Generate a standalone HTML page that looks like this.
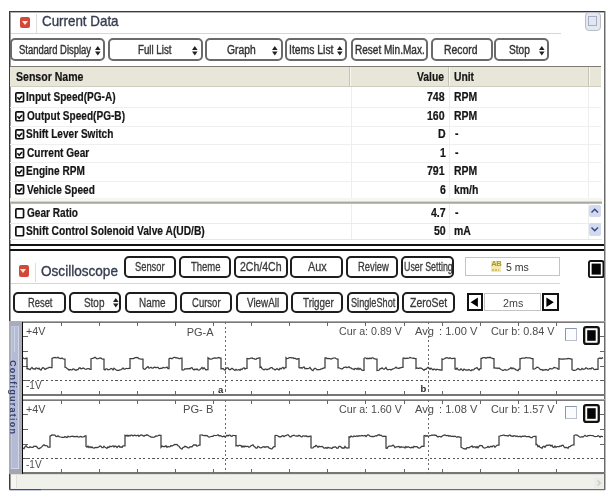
<!DOCTYPE html>
<html><head><meta charset="utf-8"><style>
html,body{margin:0;padding:0;background:#fff;}
body{width:616px;height:499px;position:relative;overflow:hidden;font-family:"Liberation Sans", sans-serif;}
body div{position:absolute;}
.t{position:absolute;white-space:nowrap;line-height:1;transform-origin:0 0;}
</style></head><body>
<div style="left:9px;top:11px;width:596px;height:1px;background:#3a3a3a"></div><div style="left:10px;top:12px;width:594px;height:1px;background:#b4b4b4"></div><div style="left:9px;top:11px;width:1px;height:478px;background:#3c3c3c"></div><div style="left:10px;top:12px;width:1px;height:477px;background:#9a9a9a"></div><div style="left:604px;top:11px;width:1px;height:479px;background:#6a6a6a"></div><div style="left:605px;top:11px;width:1px;height:479px;background:#b8b8b8"></div><div style="left:36px;top:14px;width:1px;height:19px;background:#dcdcdc"></div><div style="left:11px;top:33px;width:550px;height:1px;background:#d6d6d6"></div><div style="left:20px;top:16.5px;width:10px;height:11px;background:#d4473b;border-radius:2px;"></div><div style="left:21.5px;top:20.5px;width:0;height:0;border-left:3.5px solid transparent;border-right:3.5px solid transparent;border-top:4px solid #f7ecd0;"></div><div style="left:584.5px;top:12.2px;width:16.8px;height:18.5px;background:#e6e8ef;border:1px solid #b9bdca;border-radius:4px;box-sizing:border-box"></div><div style="left:588.2px;top:16.4px;width:9.2px;height:10.1px;background:#e3e7f5;border:1px solid #a9aebf;box-sizing:border-box"></div><div style="left:10.2px;top:38.3px;width:95.2px;height:22.4px;border:2px solid #6a6a6a;border-radius:5px;background:#fff;box-sizing:border-box"></div><div style="left:108.1px;top:38.3px;width:95px;height:22.4px;border:2px solid #6a6a6a;border-radius:5px;background:#fff;box-sizing:border-box"></div><div style="left:205.2px;top:38.3px;width:77.8px;height:22.4px;border:2px solid #6a6a6a;border-radius:5px;background:#fff;box-sizing:border-box"></div><div style="left:285px;top:38.3px;width:62.4px;height:22.4px;border:2px solid #6a6a6a;border-radius:5px;background:#fff;box-sizing:border-box"></div><div style="left:350.7px;top:38.3px;width:76.9px;height:22.4px;border:2px solid #6a6a6a;border-radius:5px;background:#fff;box-sizing:border-box"></div><div style="left:430.5px;top:38.3px;width:62.2px;height:22.4px;border:2px solid #6a6a6a;border-radius:5px;background:#fff;box-sizing:border-box"></div><div style="left:494.4px;top:38.3px;width:54.9px;height:22.4px;border:2px solid #6a6a6a;border-radius:5px;background:#fff;box-sizing:border-box"></div><svg style="position:absolute;left:93.5px;top:45.3px;overflow:visible" width="7.6" height="12"><path d="M1,4.9 L3.8,1 L6.6,4.9 Z M1,6.5 L3.8,10.4 L6.6,6.5 Z" fill="#222"/></svg><svg style="position:absolute;left:190.8px;top:45.3px;overflow:visible" width="7.6" height="12"><path d="M1,4.9 L3.8,1 L6.6,4.9 Z M1,6.5 L3.8,10.4 L6.6,6.5 Z" fill="#222"/></svg><svg style="position:absolute;left:271px;top:45.3px;overflow:visible" width="7.6" height="12"><path d="M1,4.9 L3.8,1 L6.6,4.9 Z M1,6.5 L3.8,10.4 L6.6,6.5 Z" fill="#222"/></svg><svg style="position:absolute;left:335.6px;top:45.3px;overflow:visible" width="7.6" height="12"><path d="M1,4.9 L3.8,1 L6.6,4.9 Z M1,6.5 L3.8,10.4 L6.6,6.5 Z" fill="#222"/></svg><svg style="position:absolute;left:537.5px;top:45.3px;overflow:visible" width="7.6" height="12"><path d="M1,4.9 L3.8,1 L6.6,4.9 Z M1,6.5 L3.8,10.4 L6.6,6.5 Z" fill="#222"/></svg><div style="left:10px;top:66px;width:591px;height:1px;background:#7e7c72"></div><div style="left:10px;top:67px;width:591px;height:19px;background:#e8e6d8"></div><div style="left:10px;top:86px;width:591px;height:1px;background:#cfcdc0"></div><div style="left:348.6px;top:67px;width:1px;height:19px;background:#c6c4b6"></div><div style="left:349.6px;top:67px;width:1px;height:19px;background:#f6f5ee"></div><div style="left:448.4px;top:67px;width:1px;height:19px;background:#c6c4b6"></div><div style="left:449.4px;top:67px;width:1px;height:19px;background:#f6f5ee"></div><div style="left:588px;top:67px;width:1px;height:19px;background:#c6c4b6"></div><div style="left:589px;top:67px;width:1px;height:19px;background:#f6f5ee"></div><div style="left:10px;top:107px;width:591px;height:1px;background:#efefec"></div><div style="left:10px;top:126px;width:591px;height:1px;background:#efefec"></div><div style="left:10px;top:144px;width:591px;height:1px;background:#efefec"></div><div style="left:10px;top:162px;width:591px;height:1px;background:#efefec"></div><div style="left:10px;top:181px;width:591px;height:1px;background:#efefec"></div><div style="left:350.8px;top:87px;width:1px;height:114px;background:#eeeeee"></div><div style="left:350.8px;top:204px;width:1px;height:35px;background:#eeeeee"></div><div style="left:449px;top:87px;width:1px;height:114px;background:#eeeeee"></div><div style="left:449px;top:204px;width:1px;height:35px;background:#eeeeee"></div><div style="left:588px;top:87px;width:1px;height:114px;background:#eeeeee"></div><div style="left:588px;top:204px;width:1px;height:35px;background:#eeeeee"></div><div style="left:10px;top:198px;width:592px;height:3px;background:#f5f5f1"></div><div style="left:10px;top:201px;width:592px;height:1px;background:#d8d7d0"></div><div style="left:10px;top:202px;width:592px;height:1px;background:#a9a8a0"></div><div style="left:10px;top:203px;width:592px;height:1px;background:#bdbcb5"></div><div style="left:10px;top:223px;width:592px;height:1px;background:#ececea"></div><div style="left:10px;top:239px;width:592px;height:1px;background:#e6e6e4"></div><svg style="position:absolute;left:15px;top:92.2px" width="10" height="11" viewBox="0 0 10 11"><rect x="0.85" y="0.85" width="7.7" height="8.9" rx="1" fill="#fff" stroke="#111" stroke-width="1.7"/><path d="M2.4,5.3 L4.2,7.2 L7.0,4.0" stroke="#111" stroke-width="1.6" fill="none"/></svg><svg style="position:absolute;left:15px;top:110.65px" width="10" height="11" viewBox="0 0 10 11"><rect x="0.85" y="0.85" width="7.7" height="8.9" rx="1" fill="#fff" stroke="#111" stroke-width="1.7"/><path d="M2.4,5.3 L4.2,7.2 L7.0,4.0" stroke="#111" stroke-width="1.6" fill="none"/></svg><svg style="position:absolute;left:15px;top:129.1px" width="10" height="11" viewBox="0 0 10 11"><rect x="0.85" y="0.85" width="7.7" height="8.9" rx="1" fill="#fff" stroke="#111" stroke-width="1.7"/><path d="M2.4,5.3 L4.2,7.2 L7.0,4.0" stroke="#111" stroke-width="1.6" fill="none"/></svg><svg style="position:absolute;left:15px;top:147.55px" width="10" height="11" viewBox="0 0 10 11"><rect x="0.85" y="0.85" width="7.7" height="8.9" rx="1" fill="#fff" stroke="#111" stroke-width="1.7"/><path d="M2.4,5.3 L4.2,7.2 L7.0,4.0" stroke="#111" stroke-width="1.6" fill="none"/></svg><svg style="position:absolute;left:15px;top:166px" width="10" height="11" viewBox="0 0 10 11"><rect x="0.85" y="0.85" width="7.7" height="8.9" rx="1" fill="#fff" stroke="#111" stroke-width="1.7"/><path d="M2.4,5.3 L4.2,7.2 L7.0,4.0" stroke="#111" stroke-width="1.6" fill="none"/></svg><svg style="position:absolute;left:15px;top:184.45px" width="10" height="11" viewBox="0 0 10 11"><rect x="0.85" y="0.85" width="7.7" height="8.9" rx="1" fill="#fff" stroke="#111" stroke-width="1.7"/><path d="M2.4,5.3 L4.2,7.2 L7.0,4.0" stroke="#111" stroke-width="1.6" fill="none"/></svg><svg style="position:absolute;left:15px;top:207.9px" width="10" height="11" viewBox="0 0 10 11"><rect x="0.85" y="0.85" width="7.7" height="8.9" rx="1" fill="#fff" stroke="#111" stroke-width="1.7"/></svg><svg style="position:absolute;left:15px;top:226.2px" width="10" height="11" viewBox="0 0 10 11"><rect x="0.85" y="0.85" width="7.7" height="8.9" rx="1" fill="#fff" stroke="#111" stroke-width="1.7"/></svg><div style="left:589px;top:204.8px;width:11.5px;height:12.2px;background:#d2daf0;border-radius:2px"></div><svg style="position:absolute;left:589px;top:204.8px" width="12" height="12"><path d="M2.5,7.5 L5.75,4.2 L9,7.5" stroke="#36427e" stroke-width="1.4" fill="none"/></svg><div style="left:589px;top:223.4px;width:11.5px;height:12.2px;background:#d2daf0;border-radius:2px"></div><svg style="position:absolute;left:589px;top:223.4px" width="12" height="12"><path d="M2.5,4.5 L5.75,7.8 L9,4.5" stroke="#36427e" stroke-width="1.4" fill="none"/></svg><div style="left:10px;top:243.6px;width:594px;height:2px;background:#111"></div><div style="left:10px;top:249px;width:594px;height:2px;background:#111"></div><div style="left:18.6px;top:265px;width:10px;height:11.5px;background:#d4473b;border-radius:2px;"></div><div style="left:20.1px;top:269.2px;width:0;height:0;border-left:3.5px solid transparent;border-right:3.5px solid transparent;border-top:4px solid #f7ecd0;"></div><div style="left:34.6px;top:263px;width:1px;height:19px;background:#dcdcdc"></div><div style="left:11px;top:282.5px;width:549px;height:1px;background:#d6d6d6"></div><div style="left:123.5px;top:256px;width:52.6px;height:21.6px;border:2px solid #1e1e1e;border-radius:5px;background:#fff;box-sizing:border-box"></div><div style="left:178.5px;top:256px;width:52.7px;height:21.6px;border:2px solid #1e1e1e;border-radius:5px;background:#fff;box-sizing:border-box"></div><div style="left:234.3px;top:256px;width:53.3px;height:21.6px;border:2px solid #1e1e1e;border-radius:5px;background:#fff;box-sizing:border-box"></div><div style="left:290.2px;top:256px;width:52.8px;height:21.6px;border:2px solid #1e1e1e;border-radius:5px;background:#fff;box-sizing:border-box"></div><div style="left:345.6px;top:256px;width:52.6px;height:21.6px;border:2px solid #1e1e1e;border-radius:5px;background:#fff;box-sizing:border-box"></div><div style="left:401.3px;top:256px;width:52.4px;height:21.6px;border:2px solid #1e1e1e;border-radius:5px;background:#fff;box-sizing:border-box"></div><div style="left:464.5px;top:257.4px;width:95.1px;height:18.8px;border:1px solid #c4c4c4;background:#fff;box-sizing:border-box"></div><div style="left:490.8px;top:260.5px;width:10.2px;height:11.3px;background:#f3eaa6"></div><div class="t" style="left:491.3px;top:260.2px;font-size:7.6px;font-weight:700;color:#a8963e;letter-spacing:-0.6px">AB</div><div style="left:491.5px;top:268.8px;width:8.8px;height:2px;background:repeating-linear-gradient(90deg,#d8bc78 0 1.5px,#f1e6a8 1.5px 3px)"></div><svg style="position:absolute;left:588px;top:260.2px" width="16.4" height="18.2"><rect x="0.95" y="0.95" width="14.5" height="16.3" rx="1.8" fill="#fff" stroke="#111" stroke-width="1.9"/><rect x="3.6" y="3.6" width="9.2" height="11" fill="#050505"/></svg><div style="left:12.9px;top:292.3px;width:52.8px;height:21px;border:2px solid #1e1e1e;border-radius:5px;background:#fff;box-sizing:border-box"></div><div style="left:68.5px;top:292.3px;width:52.3px;height:21px;border:2px solid #1e1e1e;border-radius:5px;background:#fff;box-sizing:border-box"></div><div style="left:124.8px;top:292.3px;width:51.8px;height:21px;border:2px solid #1e1e1e;border-radius:5px;background:#fff;box-sizing:border-box"></div><div style="left:180px;top:292.3px;width:52.1px;height:21px;border:2px solid #1e1e1e;border-radius:5px;background:#fff;box-sizing:border-box"></div><div style="left:235.8px;top:292.3px;width:51.8px;height:21px;border:2px solid #1e1e1e;border-radius:5px;background:#fff;box-sizing:border-box"></div><div style="left:291.4px;top:292.3px;width:51.7px;height:21px;border:2px solid #1e1e1e;border-radius:5px;background:#fff;box-sizing:border-box"></div><div style="left:347.4px;top:292.3px;width:51.6px;height:21px;border:2px solid #1e1e1e;border-radius:5px;background:#fff;box-sizing:border-box"></div><div style="left:402.4px;top:292.3px;width:52.3px;height:21px;border:2px solid #1e1e1e;border-radius:5px;background:#fff;box-sizing:border-box"></div><svg style="position:absolute;left:111.9px;top:297.3px;overflow:visible" width="7.6" height="12"><path d="M1,4.9 L3.8,1 L6.6,4.9 Z M1,6.5 L3.8,10.4 L6.6,6.5 Z" fill="#222"/></svg><div style="left:466.8px;top:293.1px;width:16.2px;height:18px;border:2px solid #111;background:#fff;box-sizing:border-box"></div><div style="left:483.6px;top:293.3px;width:57px;height:17.7px;border:1px solid #c4c4c4;background:#fff;box-sizing:border-box"></div><div style="left:541.8px;top:293.1px;width:16.9px;height:18px;border:2px solid #111;background:#fff;box-sizing:border-box"></div><svg style="position:absolute;left:0;top:0" width="616" height="499"><path d="M470.6,302.3 L477.9,297.5 L477.9,307.1 Z" fill="#000"/><path d="M553.8,302.3 L546.4,297.5 L546.4,307.1 Z" fill="#000"/></svg><div style="left:9px;top:321px;width:13px;height:152.5px;background:#a9adba"></div><div style="left:10.5px;top:325.5px;width:8.5px;height:143px;background:#b3bbd7;border:1px solid #d3d7e4;border-left-color:#c4cadd;border-top-color:#c0c6da;box-sizing:border-box"></div><div style="left:13.5px;top:327px;width:1px;height:25px;background:#cdd2e2"></div><div style="left:9px;top:468.5px;width:13px;height:5px;background:#a4a6ae"></div><div class="t" style="left:17.2px;top:359.5px;font-size:9px;font-weight:700;letter-spacing:1.25px;color:#36426e;transform:rotate(90deg);transform-origin:0 0;">Configuration</div><div style="left:22px;top:321px;width:582.5px;height:1px;background:#a6a6a6"></div><div style="left:22px;top:322px;width:582.5px;height:1px;background:#7a7a7a"></div><div style="left:22px;top:394.4px;width:582.5px;height:1.5px;background:#767676"></div><div style="left:60.52px;top:322px;width:1px;height:4px;background:#666"></div><div style="left:60.52px;top:391.2px;width:1px;height:4px;background:#666"></div><div style="left:98.64px;top:322px;width:1px;height:4px;background:#666"></div><div style="left:98.64px;top:391.2px;width:1px;height:4px;background:#666"></div><div style="left:136.76px;top:322px;width:1px;height:4px;background:#666"></div><div style="left:136.76px;top:391.2px;width:1px;height:4px;background:#666"></div><div style="left:174.88px;top:322px;width:1px;height:4px;background:#666"></div><div style="left:174.88px;top:391.2px;width:1px;height:4px;background:#666"></div><div style="left:213px;top:322px;width:1px;height:4px;background:#666"></div><div style="left:213px;top:391.2px;width:1px;height:4px;background:#666"></div><div style="left:251.12px;top:322px;width:1px;height:4px;background:#666"></div><div style="left:251.12px;top:391.2px;width:1px;height:4px;background:#666"></div><div style="left:289.24px;top:322px;width:1px;height:4px;background:#666"></div><div style="left:289.24px;top:391.2px;width:1px;height:4px;background:#666"></div><div style="left:327.36px;top:322px;width:1px;height:4px;background:#666"></div><div style="left:327.36px;top:391.2px;width:1px;height:4px;background:#666"></div><div style="left:365.48px;top:322px;width:1px;height:4px;background:#666"></div><div style="left:365.48px;top:391.2px;width:1px;height:4px;background:#666"></div><div style="left:403.6px;top:322px;width:1px;height:4px;background:#666"></div><div style="left:403.6px;top:391.2px;width:1px;height:4px;background:#666"></div><div style="left:441.72px;top:322px;width:1px;height:4px;background:#666"></div><div style="left:441.72px;top:391.2px;width:1px;height:4px;background:#666"></div><div style="left:479.84px;top:322px;width:1px;height:4px;background:#666"></div><div style="left:479.84px;top:391.2px;width:1px;height:4px;background:#666"></div><div style="left:517.96px;top:322px;width:1px;height:4px;background:#666"></div><div style="left:517.96px;top:391.2px;width:1px;height:4px;background:#666"></div><div style="left:556.08px;top:322px;width:1px;height:4px;background:#666"></div><div style="left:556.08px;top:391.2px;width:1px;height:4px;background:#666"></div><div style="left:23px;top:336.2px;width:4.5px;height:1px;background:#666"></div><div style="left:599.5px;top:336.2px;width:4.5px;height:1px;background:#666"></div><div style="left:23px;top:351.3px;width:4.5px;height:1px;background:#666"></div><div style="left:599.5px;top:351.3px;width:4.5px;height:1px;background:#666"></div><div style="left:23px;top:365.7px;width:4.5px;height:1px;background:#666"></div><div style="left:599.5px;top:365.7px;width:4.5px;height:1px;background:#666"></div><div style="left:23px;top:380.1px;width:4.5px;height:1px;background:#666"></div><div style="left:599.5px;top:380.1px;width:4.5px;height:1px;background:#666"></div><div style="left:23px;top:380.1px;width:580px;height:1.2px;background:repeating-linear-gradient(90deg,#555 0 2.2px,transparent 2.2px 4.62px)"></div><div style="left:224.7px;top:322px;width:1px;height:73.19999999999999px;background:repeating-linear-gradient(180deg,#6a6a6a 0 2px,transparent 2px 4.5px)"></div><div style="left:428.1px;top:322px;width:1px;height:73.19999999999999px;background:repeating-linear-gradient(180deg,#6a6a6a 0 2px,transparent 2px 4.5px)"></div><div style="left:22px;top:398.8px;width:582.5px;height:1px;background:#a6a6a6"></div><div style="left:22px;top:399.8px;width:582.5px;height:1px;background:#7a7a7a"></div><div style="left:22px;top:472.4px;width:582.5px;height:1.5px;background:#767676"></div><div style="left:60.52px;top:399.8px;width:1px;height:4px;background:#666"></div><div style="left:60.52px;top:469.2px;width:1px;height:4px;background:#666"></div><div style="left:98.64px;top:399.8px;width:1px;height:4px;background:#666"></div><div style="left:98.64px;top:469.2px;width:1px;height:4px;background:#666"></div><div style="left:136.76px;top:399.8px;width:1px;height:4px;background:#666"></div><div style="left:136.76px;top:469.2px;width:1px;height:4px;background:#666"></div><div style="left:174.88px;top:399.8px;width:1px;height:4px;background:#666"></div><div style="left:174.88px;top:469.2px;width:1px;height:4px;background:#666"></div><div style="left:213px;top:399.8px;width:1px;height:4px;background:#666"></div><div style="left:213px;top:469.2px;width:1px;height:4px;background:#666"></div><div style="left:251.12px;top:399.8px;width:1px;height:4px;background:#666"></div><div style="left:251.12px;top:469.2px;width:1px;height:4px;background:#666"></div><div style="left:289.24px;top:399.8px;width:1px;height:4px;background:#666"></div><div style="left:289.24px;top:469.2px;width:1px;height:4px;background:#666"></div><div style="left:327.36px;top:399.8px;width:1px;height:4px;background:#666"></div><div style="left:327.36px;top:469.2px;width:1px;height:4px;background:#666"></div><div style="left:365.48px;top:399.8px;width:1px;height:4px;background:#666"></div><div style="left:365.48px;top:469.2px;width:1px;height:4px;background:#666"></div><div style="left:403.6px;top:399.8px;width:1px;height:4px;background:#666"></div><div style="left:403.6px;top:469.2px;width:1px;height:4px;background:#666"></div><div style="left:441.72px;top:399.8px;width:1px;height:4px;background:#666"></div><div style="left:441.72px;top:469.2px;width:1px;height:4px;background:#666"></div><div style="left:479.84px;top:399.8px;width:1px;height:4px;background:#666"></div><div style="left:479.84px;top:469.2px;width:1px;height:4px;background:#666"></div><div style="left:517.96px;top:399.8px;width:1px;height:4px;background:#666"></div><div style="left:517.96px;top:469.2px;width:1px;height:4px;background:#666"></div><div style="left:556.08px;top:399.8px;width:1px;height:4px;background:#666"></div><div style="left:556.08px;top:469.2px;width:1px;height:4px;background:#666"></div><div style="left:23px;top:414.2px;width:4.5px;height:1px;background:#666"></div><div style="left:599.5px;top:414.2px;width:4.5px;height:1px;background:#666"></div><div style="left:23px;top:429px;width:4.5px;height:1px;background:#666"></div><div style="left:599.5px;top:429px;width:4.5px;height:1px;background:#666"></div><div style="left:23px;top:443.6px;width:4.5px;height:1px;background:#666"></div><div style="left:599.5px;top:443.6px;width:4.5px;height:1px;background:#666"></div><div style="left:23px;top:458.3px;width:4.5px;height:1px;background:#666"></div><div style="left:599.5px;top:458.3px;width:4.5px;height:1px;background:#666"></div><div style="left:23px;top:458.3px;width:580px;height:1.2px;background:repeating-linear-gradient(90deg,#555 0 2.2px,transparent 2.2px 4.62px)"></div><div style="left:224.7px;top:399.8px;width:1px;height:73.39999999999998px;background:repeating-linear-gradient(180deg,#6a6a6a 0 2px,transparent 2px 4.5px)"></div><div style="left:428.1px;top:399.8px;width:1px;height:73.39999999999998px;background:repeating-linear-gradient(180deg,#6a6a6a 0 2px,transparent 2px 4.5px)"></div><div style="left:22px;top:322px;width:1.2px;height:151.5px;background:#080808"></div><div class="t" style="left:217.9px;top:385.4px;font-size:9.5px;font-weight:700;color:#2a2a2a">a</div><div class="t" style="left:420.6px;top:383.6px;font-size:9.5px;font-weight:700;color:#2a2a2a">b</div><div style="left:565.2px;top:328.2px;width:12.3px;height:12.8px;border:1.3px solid #b9c0d0;border-top-color:#8d95aa;border-left-color:#8d95aa;background:#fbfcfe;box-sizing:border-box"></div><div style="left:565.2px;top:406.3px;width:12.3px;height:12.8px;border:1.3px solid #b9c0d0;border-top-color:#8d95aa;border-left-color:#8d95aa;background:#fbfcfe;box-sizing:border-box"></div><svg style="position:absolute;left:582.7px;top:325.8px" width="16.9" height="19"><rect x="1.15" y="1.15" width="14.6" height="16.7" rx="1.8" fill="#fff" stroke="#111" stroke-width="2.3"/><rect x="4.2" y="4.2" width="8.5" height="10.6" fill="#050505"/></svg><svg style="position:absolute;left:582.7px;top:403.5px" width="16.9" height="19"><rect x="1.15" y="1.15" width="14.6" height="16.7" rx="1.8" fill="#fff" stroke="#111" stroke-width="2.3"/><rect x="4.2" y="4.2" width="8.5" height="10.6" fill="#050505"/></svg><svg style="position:absolute;left:0;top:0" width="616" height="499"><path d="M23.0,357.8 L24.0,358.5 L25.0,358.8 L26.0,358.2 L27.0,358.2 L27.0,368.8 L28.0,368.7 L29.0,369.1 L30.0,369.7 L31.0,368.3 L32.0,367.4 L33.0,368.8 L34.0,368.6 L35.0,369.3 L36.0,367.9 L37.0,368.1 L38.0,368.9 L39.0,368.2 L40.0,369.5 L41.0,370.2 L42.0,368.5 L43.0,367.5 L44.0,368.1 L45.0,369.4 L46.0,368.9 L47.0,368.2 L48.0,368.2 L49.0,367.3 L50.0,367.3 L51.0,367.7 L52.0,367.7 L52.0,358.3 L53.0,357.9 L54.0,357.7 L55.0,357.5 L56.0,357.8 L57.0,357.7 L58.0,357.3 L59.0,358.2 L60.0,358.3 L61.0,358.5 L62.0,358.0 L63.0,358.8 L64.0,359.1 L65.0,359.1 L65.0,367.2 L66.0,367.5 L67.0,368.5 L68.0,369.1 L69.0,370.1 L70.0,369.4 L71.0,369.9 L72.0,369.9 L73.0,369.0 L74.0,369.1 L75.0,369.9 L76.0,370.3 L77.0,369.7 L78.0,369.6 L79.0,368.1 L80.0,367.8 L81.0,368.9 L82.0,368.7 L83.0,367.9 L84.0,368.4 L85.0,369.0 L86.0,369.4 L87.0,368.8 L88.0,368.7 L89.0,368.7 L90.0,369.4 L91.0,369.4 L91.0,358.8 L92.0,358.5 L93.0,358.4 L94.0,357.7 L95.0,357.3 L96.0,358.0 L97.0,358.8 L98.0,358.7 L99.0,358.4 L100.0,357.9 L101.0,358.1 L102.0,358.8 L103.0,359.0 L104.0,359.0 L104.0,369.3 L105.0,370.0 L106.0,368.8 L107.0,368.9 L108.0,369.9 L109.0,369.7 L110.0,369.2 L111.0,368.5 L112.0,368.7 L113.0,369.9 L114.0,368.2 L115.0,369.1 L116.0,369.8 L117.0,370.3 L118.0,370.3 L119.0,370.4 L120.0,369.8 L121.0,369.6 L122.0,369.1 L123.0,367.9 L124.0,369.1 L125.0,369.2 L126.0,368.3 L127.0,368.5 L128.0,368.6 L129.0,368.3 L130.0,368.3 L130.0,358.5 L131.0,358.5 L132.0,358.6 L133.0,358.6 L134.0,358.4 L135.0,357.7 L136.0,357.6 L137.0,357.4 L138.0,357.9 L139.0,358.6 L140.0,358.9 L141.0,359.1 L142.0,359.2 L143.0,359.2 L143.0,367.9 L144.0,369.1 L145.0,369.4 L146.0,368.2 L147.0,367.3 L148.0,366.7 L149.0,368.2 L150.0,367.8 L151.0,367.3 L152.0,368.2 L153.0,368.1 L154.0,367.3 L155.0,367.1 L156.0,367.8 L157.0,367.4 L158.0,367.4 L159.0,368.5 L160.0,368.5 L161.0,368.2 L162.0,368.4 L163.0,367.4 L164.0,367.7 L165.0,367.9 L166.0,367.5 L167.0,367.1 L168.0,368.7 L169.0,368.7 L169.0,358.9 L170.0,358.2 L171.0,358.4 L172.0,358.8 L173.0,357.9 L174.0,357.4 L175.0,357.3 L176.0,358.0 L177.0,357.6 L178.0,358.2 L179.0,358.5 L180.0,358.5 L181.0,358.0 L182.0,358.0 L182.0,369.9 L183.0,370.2 L184.0,369.7 L185.0,368.7 L186.0,369.1 L187.0,368.7 L188.0,368.9 L189.0,368.4 L190.0,368.9 L191.0,367.8 L192.0,367.7 L193.0,369.3 L194.0,370.0 L195.0,369.0 L196.0,369.8 L197.0,368.9 L198.0,369.9 L199.0,370.1 L200.0,369.4 L201.0,368.5 L202.0,367.5 L203.0,368.9 L204.0,367.8 L205.0,368.9 L206.0,370.0 L207.0,369.7 L208.0,369.7 L208.0,357.7 L209.0,358.4 L210.0,359.0 L211.0,359.0 L212.0,358.8 L213.0,358.4 L214.0,358.1 L215.0,357.8 L216.0,358.2 L217.0,358.2 L218.0,357.8 L219.0,357.4 L220.0,358.0 L221.0,358.0 L221.0,368.8 L222.0,368.8 L223.0,368.4 L224.0,369.4 L225.0,370.1 L226.0,368.5 L227.0,367.9 L228.0,367.8 L229.0,369.4 L230.0,369.8 L231.0,369.0 L232.0,368.3 L233.0,368.9 L234.0,369.7 L235.0,370.4 L236.0,369.4 L237.0,370.1 L238.0,370.0 L239.0,369.5 L240.0,370.4 L241.0,369.1 L242.0,369.5 L243.0,368.2 L244.0,367.7 L245.0,369.1 L246.0,368.3 L247.0,368.3 L247.0,358.5 L248.0,358.6 L249.0,358.9 L250.0,358.5 L251.0,358.2 L252.0,357.9 L253.0,358.6 L254.0,358.6 L255.0,359.1 L256.0,359.3 L257.0,358.4 L258.0,358.4 L259.0,357.8 L260.0,357.8 L260.0,367.4 L261.0,366.9 L262.0,368.6 L263.0,369.3 L264.0,369.9 L265.0,369.1 L266.0,369.2 L267.0,369.7 L268.0,369.1 L269.0,369.1 L270.0,368.3 L271.0,367.5 L272.0,367.5 L273.0,368.9 L274.0,369.0 L275.0,370.0 L276.0,369.4 L277.0,368.6 L278.0,369.4 L279.0,369.9 L280.0,368.3 L281.0,368.9 L282.0,367.9 L283.0,367.3 L284.0,368.8 L285.0,367.7 L286.0,367.7 L286.0,357.7 L287.0,358.6 L288.0,358.4 L289.0,357.8 L290.0,357.5 L291.0,357.5 L292.0,358.1 L293.0,357.7 L294.0,358.5 L295.0,358.2 L296.0,358.9 L297.0,359.2 L298.0,358.6 L299.0,358.6 L299.0,367.6 L300.0,368.0 L301.0,367.4 L302.0,368.3 L303.0,367.4 L304.0,366.8 L305.0,368.7 L306.0,368.3 L307.0,368.7 L308.0,368.6 L309.0,368.3 L310.0,367.4 L311.0,369.0 L312.0,370.0 L313.0,370.7 L314.0,369.0 L315.0,368.2 L316.0,368.7 L317.0,369.9 L318.0,369.6 L319.0,369.7 L320.0,369.7 L321.0,368.8 L322.0,368.9 L323.0,368.4 L324.0,367.9 L325.0,367.9 L325.0,357.9 L326.0,357.7 L327.0,358.6 L328.0,358.4 L329.0,358.6 L330.0,358.7 L331.0,359.1 L332.0,358.7 L333.0,358.2 L334.0,358.0 L335.0,357.9 L336.0,358.5 L337.0,359.0 L338.0,359.0 L338.0,367.8 L339.0,367.8 L340.0,368.3 L341.0,368.7 L342.0,369.0 L343.0,368.3 L344.0,367.3 L345.0,367.3 L346.0,366.9 L347.0,367.8 L348.0,367.2 L349.0,366.8 L350.0,367.9 L351.0,367.8 L352.0,368.9 L353.0,368.8 L354.0,369.7 L355.0,368.5 L356.0,368.6 L357.0,369.4 L358.0,368.1 L359.0,369.5 L360.0,368.4 L361.0,369.2 L362.0,370.2 L363.0,370.4 L364.0,370.4 L364.0,358.5 L365.0,357.8 L366.0,358.0 L367.0,358.7 L368.0,358.3 L369.0,358.8 L370.0,358.1 L371.0,358.8 L372.0,357.9 L373.0,357.8 L374.0,358.6 L375.0,358.9 L376.0,359.2 L377.0,359.2 L377.0,370.6 L378.0,370.5 L379.0,370.3 L380.0,368.9 L381.0,368.7 L382.0,367.9 L383.0,368.8 L384.0,369.2 L385.0,368.4 L386.0,367.5 L387.0,369.2 L388.0,369.8 L389.0,369.5 L390.0,369.3 L391.0,370.0 L392.0,369.4 L393.0,368.9 L394.0,368.5 L395.0,368.0 L396.0,367.2 L397.0,368.2 L398.0,368.2 L399.0,368.6 L400.0,367.6 L401.0,367.8 L402.0,367.3 L403.0,367.3 L403.0,358.3 L404.0,358.0 L405.0,358.6 L406.0,358.3 L407.0,358.2 L408.0,358.4 L409.0,358.0 L410.0,357.4 L411.0,357.8 L412.0,358.0 L413.0,358.3 L414.0,358.2 L415.0,358.5 L416.0,358.5 L416.0,368.5 L417.0,368.0 L418.0,368.3 L419.0,368.4 L420.0,367.9 L421.0,368.1 L422.0,368.5 L423.0,369.6 L424.0,370.3 L425.0,369.1 L426.0,369.4 L427.0,368.1 L428.0,367.3 L429.0,367.9 L430.0,369.2 L431.0,368.2 L432.0,369.1 L433.0,369.9 L434.0,369.0 L435.0,369.4 L436.0,370.0 L437.0,369.2 L438.0,369.5 L439.0,369.8 L440.0,369.6 L441.0,370.2 L442.0,370.2 L442.0,359.0 L443.0,359.4 L444.0,359.0 L445.0,358.3 L446.0,357.9 L447.0,357.7 L448.0,358.0 L449.0,358.5 L450.0,357.8 L451.0,358.3 L452.0,358.6 L453.0,358.3 L454.0,358.3 L455.0,358.3 L455.0,368.8 L456.0,369.4 L457.0,368.0 L458.0,369.5 L459.0,370.0 L460.0,369.8 L461.0,368.8 L462.0,369.8 L463.0,370.5 L464.0,369.0 L465.0,369.6 L466.0,370.1 L467.0,369.9 L468.0,370.0 L469.0,369.4 L470.0,370.2 L471.0,370.7 L472.0,369.7 L473.0,370.1 L474.0,369.4 L475.0,368.4 L476.0,368.1 L477.0,367.5 L478.0,369.0 L479.0,370.0 L480.0,368.6 L481.0,368.6 L481.0,358.4 L482.0,358.3 L483.0,357.7 L484.0,357.7 L485.0,357.6 L486.0,358.2 L487.0,357.6 L488.0,357.4 L489.0,357.7 L490.0,357.3 L491.0,357.9 L492.0,358.2 L493.0,358.7 L494.0,358.7 L494.0,368.0 L495.0,367.8 L496.0,368.3 L497.0,368.0 L498.0,368.5 L499.0,368.0 L500.0,368.8 L501.0,369.5 L502.0,370.0 L503.0,370.6 L504.0,370.0 L505.0,369.5 L506.0,370.1 L507.0,370.2 L508.0,369.8 L509.0,369.1 L510.0,368.5 L511.0,367.7 L512.0,368.9 L513.0,367.9 L514.0,368.9 L515.0,368.9 L516.0,370.0 L517.0,370.1 L518.0,370.7 L519.0,369.1 L520.0,369.1 L520.0,358.5 L521.0,358.5 L522.0,358.2 L523.0,358.2 L524.0,358.1 L525.0,358.2 L526.0,357.5 L527.0,357.8 L528.0,357.9 L529.0,357.8 L530.0,357.9 L531.0,358.4 L532.0,358.6 L533.0,358.6 L533.0,369.0 L534.0,369.2 L535.0,368.8 L536.0,368.1 L537.0,367.2 L538.0,367.3 L539.0,368.1 L540.0,369.3 L541.0,369.9 L542.0,369.5 L543.0,370.4 L544.0,369.7 L545.0,370.1 L546.0,369.4 L547.0,369.7 L548.0,370.5 L549.0,369.4 L550.0,368.4 L551.0,368.8 L552.0,368.9 L553.0,368.5 L554.0,367.4 L555.0,367.7 L556.0,368.0 L557.0,368.1 L558.0,369.2 L559.0,369.2 L559.0,358.6 L560.0,358.8 L561.0,359.2 L562.0,359.2 L563.0,358.8 L564.0,359.0 L565.0,358.9 L566.0,358.9 L567.0,358.8 L568.0,358.5 L569.0,358.6 L570.0,358.7 L571.0,359.1 L572.0,359.1 L572.0,369.7 L573.0,370.2 L574.0,370.3 L575.0,370.4 L576.0,370.0 L577.0,369.2 L578.0,368.5 L579.0,369.1 L580.0,369.9 L581.0,369.6 L582.0,368.4 L583.0,369.4 L584.0,369.1 L585.0,368.9 L586.0,367.8 L587.0,368.2 L588.0,369.0 L589.0,368.8 L590.0,368.4 L591.0,369.0 L592.0,367.7 L593.0,368.2 L594.0,369.5 L595.0,369.7 L596.0,369.1 L597.0,369.4 L598.0,369.4 L598.0,358.9 L599.0,358.3 L600.0,357.9 L601.0,358.6 L602.0,358.1 L603.0,357.6" stroke="#3e3e3e" stroke-width="1.25" fill="none"/><path d="M23.0,448.0 L24.0,448.7 L25.0,446.8 L26.0,445.7 L27.0,447.0 L28.0,447.5 L29.0,447.7 L30.0,446.8 L31.0,447.1 L32.0,447.3 L33.0,447.3 L34.0,446.2 L35.0,446.3 L36.0,446.2 L37.0,447.0 L38.0,448.2 L39.0,448.8 L40.0,448.1 L41.0,447.5 L42.0,446.6 L43.0,445.5 L44.0,444.8 L45.0,445.5 L46.0,445.5 L47.0,445.7 L48.0,447.2 L49.0,447.1 L50.0,447.1 L50.0,436.1 L51.0,435.6 L52.0,434.9 L53.0,435.0 L54.0,434.8 L55.0,435.3 L56.0,436.5 L57.0,436.6 L58.0,435.8 L59.0,436.6 L60.0,436.9 L61.0,437.0 L62.0,437.3 L63.0,437.3 L64.0,437.3 L65.0,436.5 L66.0,437.2 L67.0,437.5 L68.0,436.3 L69.0,436.6 L70.0,436.8 L71.0,436.4 L72.0,436.3 L73.0,436.2 L74.0,436.9 L75.0,436.5 L76.0,436.9 L77.0,436.3 L78.0,436.9 L79.0,437.2 L80.0,436.7 L81.0,436.5 L82.0,437.1 L83.0,437.0 L84.0,436.6 L85.0,435.9 L86.0,435.9 L86.0,446.5 L87.0,447.2 L88.0,446.1 L89.0,447.5 L90.0,446.6 L91.0,447.7 L92.0,446.9 L93.0,448.0 L94.0,448.1 L95.0,447.6 L96.0,447.3 L97.0,447.5 L98.0,447.4 L99.0,446.7 L100.0,446.0 L101.0,446.3 L102.0,447.7 L103.0,447.6 L104.0,446.2 L105.0,447.3 L106.0,447.7 L107.0,448.4 L108.0,446.9 L109.0,447.5 L110.0,446.1 L111.0,446.8 L112.0,446.2 L113.0,445.7 L114.0,447.1 L115.0,446.0 L116.0,446.4 L117.0,447.5 L118.0,446.5 L119.0,445.9 L120.0,447.2 L121.0,446.9 L122.0,447.4 L123.0,445.9 L124.0,445.9 L125.0,445.9 L125.0,435.3 L126.0,435.9 L127.0,435.2 L128.0,436.3 L129.0,435.3 L130.0,436.0 L131.0,435.2 L132.0,435.1 L133.0,436.0 L134.0,435.4 L135.0,435.1 L136.0,435.8 L137.0,435.7 L138.0,435.0 L139.0,436.3 L140.0,435.5 L141.0,434.9 L142.0,435.1 L143.0,435.6 L144.0,436.2 L145.0,435.4 L146.0,435.4 L147.0,434.8 L148.0,435.2 L149.0,436.0 L150.0,436.4 L151.0,437.0 L152.0,437.0 L153.0,437.3 L154.0,437.1 L155.0,436.6 L156.0,435.9 L157.0,436.2 L158.0,435.8 L159.0,435.2 L160.0,435.4 L161.0,435.4 L161.0,447.3 L162.0,446.1 L163.0,446.6 L164.0,446.4 L165.0,446.6 L166.0,445.8 L167.0,447.4 L168.0,446.5 L169.0,446.9 L170.0,446.7 L171.0,445.5 L172.0,446.1 L173.0,445.5 L174.0,444.9 L175.0,444.4 L176.0,444.5 L177.0,444.4 L178.0,445.7 L179.0,446.2 L180.0,447.7 L181.0,448.5 L182.0,449.1 L183.0,447.5 L184.0,447.1 L185.0,446.3 L186.0,446.7 L187.0,447.1 L188.0,447.8 L189.0,447.9 L190.0,446.8 L191.0,446.6 L192.0,446.8 L193.0,445.5 L194.0,444.8 L195.0,445.4 L196.0,444.9 L197.0,446.3 L198.0,445.8 L199.0,445.2 L200.0,445.2 L200.0,435.1 L201.0,435.0 L202.0,434.9 L203.0,435.4 L204.0,435.6 L205.0,435.4 L206.0,435.9 L207.0,435.4 L208.0,436.4 L209.0,437.1 L210.0,437.0 L211.0,436.5 L212.0,436.3 L213.0,436.3 L214.0,435.4 L215.0,435.5 L216.0,435.7 L217.0,435.3 L218.0,434.8 L219.0,435.8 L220.0,435.7 L221.0,435.8 L222.0,436.7 L223.0,436.6 L224.0,436.0 L225.0,436.9 L226.0,436.3 L227.0,435.3 L228.0,435.9 L229.0,435.2 L230.0,435.2 L231.0,436.1 L232.0,436.4 L233.0,435.4 L234.0,435.5 L235.0,435.6 L236.0,435.6 L236.0,445.8 L237.0,445.4 L238.0,446.2 L239.0,445.3 L240.0,445.4 L241.0,445.6 L242.0,447.2 L243.0,445.9 L244.0,447.0 L245.0,446.1 L246.0,446.6 L247.0,446.4 L248.0,446.4 L249.0,447.2 L250.0,446.8 L251.0,445.8 L252.0,445.2 L253.0,444.8 L254.0,446.5 L255.0,447.0 L256.0,448.1 L257.0,448.1 L258.0,446.3 L259.0,446.9 L260.0,447.6 L261.0,447.9 L262.0,447.4 L263.0,446.8 L264.0,446.7 L265.0,447.5 L266.0,446.6 L267.0,446.8 L268.0,446.7 L269.0,447.9 L270.0,448.3 L271.0,448.8 L272.0,448.9 L273.0,447.5 L274.0,446.5 L275.0,446.5 L275.0,435.7 L276.0,435.4 L277.0,435.5 L278.0,436.0 L279.0,436.8 L280.0,436.6 L281.0,436.9 L282.0,435.8 L283.0,435.6 L284.0,436.7 L285.0,435.8 L286.0,435.7 L287.0,435.0 L288.0,434.7 L289.0,435.9 L290.0,436.8 L291.0,436.8 L292.0,435.8 L293.0,435.5 L294.0,435.2 L295.0,435.8 L296.0,436.2 L297.0,436.0 L298.0,436.1 L299.0,435.3 L300.0,435.7 L301.0,436.6 L302.0,436.8 L303.0,435.8 L304.0,435.9 L305.0,436.3 L306.0,435.8 L307.0,436.6 L308.0,436.3 L309.0,436.5 L310.0,436.1 L311.0,436.1 L311.0,447.9 L312.0,448.2 L313.0,447.8 L314.0,446.5 L315.0,446.5 L316.0,445.4 L317.0,446.2 L318.0,447.4 L319.0,446.3 L320.0,446.6 L321.0,446.6 L322.0,446.4 L323.0,447.1 L324.0,448.1 L325.0,448.1 L326.0,447.5 L327.0,448.4 L328.0,447.3 L329.0,447.8 L330.0,447.8 L331.0,448.1 L332.0,448.5 L333.0,447.1 L334.0,447.3 L335.0,446.8 L336.0,447.3 L337.0,448.3 L338.0,448.1 L339.0,446.3 L340.0,446.4 L341.0,447.1 L342.0,448.0 L343.0,447.9 L344.0,448.3 L345.0,446.4 L346.0,447.7 L347.0,448.0 L348.0,447.8 L349.0,447.8 L349.0,436.8 L350.0,437.2 L351.0,436.0 L352.0,436.6 L353.0,436.8 L354.0,435.9 L355.0,436.4 L356.0,436.4 L357.0,435.7 L358.0,436.4 L359.0,435.6 L360.0,435.9 L361.0,435.8 L362.0,435.5 L363.0,435.8 L364.0,435.8 L365.0,435.4 L366.0,436.5 L367.0,435.5 L368.0,434.8 L369.0,435.3 L370.0,436.2 L371.0,436.4 L372.0,436.7 L373.0,436.4 L374.0,436.5 L375.0,436.0 L376.0,435.6 L377.0,435.8 L378.0,435.0 L379.0,434.6 L380.0,435.6 L381.0,435.2 L382.0,436.0 L383.0,436.5 L384.0,436.1 L385.0,436.4 L386.0,436.4 L386.0,448.1 L387.0,448.5 L388.0,446.9 L389.0,446.0 L390.0,446.0 L391.0,446.2 L392.0,445.9 L393.0,445.0 L394.0,445.9 L395.0,447.5 L396.0,446.8 L397.0,446.9 L398.0,446.6 L399.0,446.5 L400.0,447.6 L401.0,446.8 L402.0,447.2 L403.0,447.0 L404.0,447.0 L405.0,448.0 L406.0,446.4 L407.0,447.4 L408.0,446.7 L409.0,447.1 L410.0,447.7 L411.0,447.8 L412.0,447.1 L413.0,447.9 L414.0,446.4 L415.0,446.9 L416.0,446.6 L417.0,446.7 L418.0,447.7 L419.0,448.1 L420.0,447.9 L421.0,447.0 L422.0,446.2 L423.0,446.3 L424.0,446.3 L424.0,435.8 L425.0,435.5 L426.0,436.5 L427.0,435.6 L428.0,436.3 L429.0,436.0 L430.0,435.7 L431.0,435.5 L432.0,435.0 L433.0,435.3 L434.0,435.0 L435.0,435.3 L436.0,435.2 L437.0,436.2 L438.0,436.9 L439.0,436.4 L440.0,436.5 L441.0,437.1 L442.0,436.3 L443.0,435.5 L444.0,435.2 L445.0,435.0 L446.0,435.7 L447.0,435.6 L448.0,435.5 L449.0,436.2 L450.0,435.7 L451.0,436.3 L452.0,436.4 L453.0,436.1 L454.0,436.6 L455.0,436.1 L456.0,436.7 L457.0,437.2 L458.0,436.7 L459.0,436.8 L460.0,437.3 L461.0,437.3 L461.0,447.2 L462.0,447.7 L463.0,448.3 L464.0,448.8 L465.0,448.7 L466.0,449.2 L467.0,447.7 L468.0,447.6 L469.0,447.8 L470.0,447.0 L471.0,446.7 L472.0,445.9 L473.0,447.4 L474.0,446.8 L475.0,446.7 L476.0,447.8 L477.0,446.6 L478.0,447.9 L479.0,446.5 L480.0,445.4 L481.0,445.6 L482.0,445.7 L483.0,447.2 L484.0,448.0 L485.0,448.2 L486.0,447.5 L487.0,447.3 L488.0,446.4 L489.0,447.4 L490.0,446.9 L491.0,446.3 L492.0,446.9 L493.0,445.9 L494.0,445.8 L495.0,447.3 L496.0,446.1 L497.0,445.4 L498.0,445.2 L499.0,445.2 L499.0,436.3 L500.0,436.0 L501.0,435.6 L502.0,435.5 L503.0,435.2 L504.0,435.1 L505.0,435.6 L506.0,435.5 L507.0,435.5 L508.0,436.2 L509.0,435.3 L510.0,434.9 L511.0,436.0 L512.0,435.9 L513.0,436.4 L514.0,435.6 L515.0,435.8 L516.0,436.5 L517.0,436.0 L518.0,436.5 L519.0,436.5 L520.0,436.1 L521.0,437.0 L522.0,436.4 L523.0,436.2 L524.0,436.3 L525.0,435.9 L526.0,436.5 L527.0,436.5 L528.0,436.5 L529.0,436.3 L530.0,437.1 L531.0,437.5 L532.0,437.5 L533.0,436.8 L534.0,436.3 L535.0,436.3 L536.0,436.3 L536.0,444.7 L537.0,444.5 L538.0,446.7 L539.0,445.8 L540.0,447.3 L541.0,447.6 L542.0,448.3 L543.0,446.6 L544.0,446.2 L545.0,447.2 L546.0,445.8 L547.0,445.2 L548.0,445.4 L549.0,445.1 L550.0,444.9 L551.0,446.1 L552.0,445.3 L553.0,447.1 L554.0,447.4 L555.0,446.0 L556.0,447.3 L557.0,446.5 L558.0,446.5 L559.0,446.8 L560.0,445.9 L561.0,446.2 L562.0,445.3 L563.0,445.1 L564.0,446.9 L565.0,447.7 L566.0,447.4 L567.0,447.6 L568.0,448.3 L569.0,446.7 L570.0,446.7 L571.0,445.8 L572.0,445.2 L573.0,444.8 L574.0,444.8 L574.0,435.6 L575.0,435.0 L576.0,434.9 L577.0,435.1 L578.0,435.7 L579.0,436.5 L580.0,437.0 L581.0,437.0 L582.0,436.6 L583.0,437.1 L584.0,436.1 L585.0,435.3 L586.0,436.2 L587.0,436.3 L588.0,435.7 L589.0,435.6 L590.0,435.4 L591.0,435.5 L592.0,435.6 L593.0,435.6 L594.0,436.3 L595.0,436.7 L596.0,436.5 L597.0,436.3 L598.0,435.8 L599.0,436.3 L600.0,437.1 L601.0,436.2 L602.0,436.5 L603.0,436.6" stroke="#3e3e3e" stroke-width="1.25" fill="none"/></svg><div style="left:11px;top:474px;width:593px;height:15px;background:#f1f1ec"></div><div style="left:11px;top:474.2px;width:592px;height:1px;background:#e0e0da"></div><div style="left:594px;top:478px;width:9px;height:10px;background:#ecece6"></div><svg style="position:absolute;left:594px;top:478px" width="10" height="10"><path d="M3.5,2.5 L6.5,5 L3.5,7.5" stroke="#c8c8c0" stroke-width="1.2" fill="none"/></svg><div style="left:9px;top:489px;width:596px;height:1px;background:#6e6e6e"></div><div style="left:9px;top:490px;width:596px;height:1px;background:#e0e0e0"></div><div style="left:10px;top:489px;width:30.6px;height:1px;background:#3a4a92"></div><div style="left:10px;top:490px;width:30.6px;height:1px;background:#c8cce0"></div><div style="left:11px;top:474.5px;width:4.5px;height:13.5px;background:#f6f6f2;border-right:1px solid #e2e2dc"></div>
<span class="t" style="left:41.68px;top:14.12px;font-size:14.5px;color:#343c50;transform:scaleX(0.922);-webkit-text-stroke:0.35px #343c50;">Current Data</span><span class="t" style="left:41.1px;top:263.05px;font-size:15px;color:#343c50;transform:scaleX(0.905);-webkit-text-stroke:0.35px #343c50;">Oscilloscope</span><span class="t" style="left:18.91px;top:43.94px;font-size:12px;color:#333;transform:scaleX(0.789);-webkit-text-stroke:0.4px #333;">Standard Display</span><span class="t" style="left:137.99px;top:43.94px;font-size:12px;color:#333;transform:scaleX(0.810);-webkit-text-stroke:0.4px #333;">Full List</span><span class="t" style="left:226.64px;top:43.94px;font-size:12px;color:#333;transform:scaleX(0.859);-webkit-text-stroke:0.4px #333;">Graph</span><span class="t" style="left:289.33px;top:43.94px;font-size:12px;color:#333;transform:scaleX(0.866);-webkit-text-stroke:0.4px #333;">Items List</span><span class="t" style="left:355.36px;top:43.94px;font-size:12px;color:#333;transform:scaleX(0.836);-webkit-text-stroke:0.4px #333;">Reset Min.Max.</span><span class="t" style="left:443.94px;top:43.94px;font-size:12px;color:#333;transform:scaleX(0.865);-webkit-text-stroke:0.4px #333;">Record</span><span class="t" style="left:509.36px;top:43.94px;font-size:12px;color:#333;transform:scaleX(0.843);-webkit-text-stroke:0.4px #333;">Stop</span><span class="t" style="left:15.62px;top:70.54px;font-size:12px;font-weight:700;color:#151515;transform:scaleX(0.880);-webkit-text-stroke:0.2px #151515;">Sensor Name</span><span class="t" style="left:416.94px;top:70.54px;font-size:12px;font-weight:700;color:#151515;transform:scaleX(0.860);-webkit-text-stroke:0.2px #151515;">Value</span><span class="t" style="left:453.74px;top:70.54px;font-size:12px;font-weight:700;color:#151515;transform:scaleX(0.860);-webkit-text-stroke:0.2px #151515;">Unit</span><span class="t" style="left:26.46px;top:91.44px;font-size:12px;font-weight:700;color:#151515;transform:scaleX(0.840);-webkit-text-stroke:0.2px #151515;">Input Speed(PG-A)</span><span class="t" style="left:427.4px;top:91.44px;font-size:12px;font-weight:700;color:#151515;transform:scaleX(0.880);-webkit-text-stroke:0.2px #151515;">748</span><span class="t" style="left:453.73px;top:91.44px;font-size:12px;font-weight:700;color:#151515;transform:scaleX(0.870);-webkit-text-stroke:0.2px #151515;">RPM</span><span class="t" style="left:27.3px;top:109.94px;font-size:12px;font-weight:700;color:#151515;transform:scaleX(0.840);-webkit-text-stroke:0.2px #151515;">Output Speed(PG-B)</span><span class="t" style="left:427.4px;top:109.94px;font-size:12px;font-weight:700;color:#151515;transform:scaleX(0.880);-webkit-text-stroke:0.2px #151515;">160</span><span class="t" style="left:453.73px;top:109.94px;font-size:12px;font-weight:700;color:#151515;transform:scaleX(0.870);-webkit-text-stroke:0.2px #151515;">RPM</span><span class="t" style="left:26.46px;top:128.44px;font-size:12px;font-weight:700;color:#151515;transform:scaleX(0.840);-webkit-text-stroke:0.2px #151515;">Shift Lever Switch</span><span class="t" style="left:437.96px;top:128.44px;font-size:12px;font-weight:700;color:#151515;transform:scaleX(0.880);-webkit-text-stroke:0.2px #151515;">D</span><span class="t" style="left:454.6px;top:128.44px;font-size:12px;font-weight:700;color:#151515;transform:scaleX(0.870);-webkit-text-stroke:0.2px #151515;">-</span><span class="t" style="left:27.3px;top:146.94px;font-size:12px;font-weight:700;color:#151515;transform:scaleX(0.840);-webkit-text-stroke:0.2px #151515;">Current Gear</span><span class="t" style="left:439.72px;top:146.94px;font-size:12px;font-weight:700;color:#151515;transform:scaleX(0.880);-webkit-text-stroke:0.2px #151515;">1</span><span class="t" style="left:454.6px;top:146.94px;font-size:12px;font-weight:700;color:#151515;transform:scaleX(0.870);-webkit-text-stroke:0.2px #151515;">-</span><span class="t" style="left:26.46px;top:165.44px;font-size:12px;font-weight:700;color:#151515;transform:scaleX(0.840);-webkit-text-stroke:0.2px #151515;">Engine RPM</span><span class="t" style="left:427.4px;top:165.44px;font-size:12px;font-weight:700;color:#151515;transform:scaleX(0.880);-webkit-text-stroke:0.2px #151515;">791</span><span class="t" style="left:453.73px;top:165.44px;font-size:12px;font-weight:700;color:#151515;transform:scaleX(0.870);-webkit-text-stroke:0.2px #151515;">RPM</span><span class="t" style="left:27.3px;top:183.94px;font-size:12px;font-weight:700;color:#151515;transform:scaleX(0.840);-webkit-text-stroke:0.2px #151515;">Vehicle Speed</span><span class="t" style="left:439.72px;top:183.94px;font-size:12px;font-weight:700;color:#151515;transform:scaleX(0.880);-webkit-text-stroke:0.2px #151515;">6</span><span class="t" style="left:453.73px;top:183.94px;font-size:12px;font-weight:700;color:#151515;transform:scaleX(0.870);-webkit-text-stroke:0.2px #151515;">km/h</span><span class="t" style="left:27.3px;top:206.94px;font-size:12px;font-weight:700;color:#151515;transform:scaleX(0.840);-webkit-text-stroke:0.2px #151515;">Gear Ratio</span><span class="t" style="left:430.92px;top:206.94px;font-size:12px;font-weight:700;color:#151515;transform:scaleX(0.880);-webkit-text-stroke:0.2px #151515;">4.7</span><span class="t" style="left:454.6px;top:206.94px;font-size:12px;font-weight:700;color:#151515;transform:scaleX(0.870);-webkit-text-stroke:0.2px #151515;">-</span><span class="t" style="left:26.45px;top:224.84px;font-size:12px;font-weight:700;color:#151515;transform:scaleX(0.853);-webkit-text-stroke:0.2px #151515;">Shift Control Solenoid Valve A(UD/B)</span><span class="t" style="left:433.56px;top:224.84px;font-size:12px;font-weight:700;color:#151515;transform:scaleX(0.880);-webkit-text-stroke:0.2px #151515;">50</span><span class="t" style="left:453.73px;top:224.84px;font-size:12px;font-weight:700;color:#151515;transform:scaleX(0.870);-webkit-text-stroke:0.2px #151515;">mA</span><span class="t" style="left:135.22px;top:261.24px;font-size:12px;color:#3a3a3a;transform:scaleX(0.778);-webkit-text-stroke:0.3px #3a3a3a;">Sensor</span><span class="t" style="left:191.2px;top:261.24px;font-size:12px;color:#3a3a3a;transform:scaleX(0.789);-webkit-text-stroke:0.3px #3a3a3a;">Theme</span><span class="t" style="left:240.42px;top:261.24px;font-size:12px;color:#3a3a3a;transform:scaleX(0.878);-webkit-text-stroke:0.3px #3a3a3a;">2Ch/4Ch</span><span class="t" style="left:308px;top:261.24px;font-size:12px;color:#3a3a3a;transform:scaleX(0.900);-webkit-text-stroke:0.3px #3a3a3a;">Aux</span><span class="t" style="left:357.72px;top:261.24px;font-size:12px;color:#3a3a3a;transform:scaleX(0.784);-webkit-text-stroke:0.3px #3a3a3a;">Review</span><span class="t" style="left:403.56px;top:261.24px;font-size:12px;color:#3a3a3a;transform:scaleX(0.738);-webkit-text-stroke:0.3px #3a3a3a;">User Setting</span><span class="t" style="left:27.72px;top:297.24px;font-size:12px;color:#3a3a3a;transform:scaleX(0.780);-webkit-text-stroke:0.3px #3a3a3a;">Reset</span><span class="t" style="left:84.17px;top:297.24px;font-size:12px;color:#3a3a3a;transform:scaleX(0.826);-webkit-text-stroke:0.3px #3a3a3a;">Stop</span><span class="t" style="left:138.57px;top:297.24px;font-size:12px;color:#3a3a3a;transform:scaleX(0.827);-webkit-text-stroke:0.3px #3a3a3a;">Name</span><span class="t" style="left:191.71px;top:297.24px;font-size:12px;color:#3a3a3a;transform:scaleX(0.794);-webkit-text-stroke:0.3px #3a3a3a;">Cursor</span><span class="t" style="left:246.5px;top:297.24px;font-size:12px;color:#3a3a3a;transform:scaleX(0.821);-webkit-text-stroke:0.3px #3a3a3a;">ViewAll</span><span class="t" style="left:303px;top:297.24px;font-size:12px;color:#3a3a3a;transform:scaleX(0.819);-webkit-text-stroke:0.3px #3a3a3a;">Trigger</span><span class="t" style="left:350.94px;top:297.24px;font-size:12px;color:#3a3a3a;transform:scaleX(0.763);-webkit-text-stroke:0.3px #3a3a3a;">SingleShot</span><span class="t" style="left:410.2px;top:297.24px;font-size:12px;color:#3a3a3a;transform:scaleX(0.870);-webkit-text-stroke:0.3px #3a3a3a;">ZeroSet</span><span class="t" style="left:505.88px;top:261.5px;font-size:11.5px;color:#333;transform:scaleX(0.917);">5 ms</span><span class="t" style="left:502.9px;top:297.9px;font-size:11.5px;color:#444;transform:scaleX(0.933);">2ms</span><span class="t" style="left:26px;top:326.17px;font-size:11px;color:#4c4c4c;transform:scaleX(0.975);">+4V</span><span class="t" style="left:26px;top:380.37px;font-size:11px;color:#4c4c4c;transform:scaleX(0.912);">-1V</span><span class="t" style="left:186.7px;top:326.57px;font-size:11px;color:#4c4c4c;">PG-A</span><span class="t" style="left:338.9px;top:326.37px;font-size:11px;color:#4c4c4c;transform:scaleX(0.969);">Cur a: 0.89 V</span><span class="t" style="left:415.2px;top:326.37px;font-size:11px;color:#4c4c4c;transform:scaleX(1.011);">Avg</span><span class="t" style="left:439.09px;top:326.37px;font-size:11px;color:#4c4c4c;transform:scaleX(1.011);">: 1.00 V</span><span class="t" style="left:491px;top:326.37px;font-size:11px;color:#4c4c4c;transform:scaleX(0.980);">Cur b: 0.84 V</span><span class="t" style="left:26px;top:404.17px;font-size:11px;color:#4c4c4c;transform:scaleX(0.975);">+4V</span><span class="t" style="left:26px;top:458.57px;font-size:11px;color:#4c4c4c;transform:scaleX(0.912);">-1V</span><span class="t" style="left:183.49px;top:403.97px;font-size:11px;color:#4c4c4c;transform:scaleX(1.014);">PG- B</span><span class="t" style="left:338.9px;top:404.17px;font-size:11px;color:#4c4c4c;transform:scaleX(0.969);">Cur a: 1.60 V</span><span class="t" style="left:415.2px;top:404.17px;font-size:11px;color:#4c4c4c;transform:scaleX(1.011);">Avg</span><span class="t" style="left:439.09px;top:404.17px;font-size:11px;color:#4c4c4c;transform:scaleX(1.011);">: 1.08 V</span><span class="t" style="left:491px;top:404.17px;font-size:11px;color:#4c4c4c;transform:scaleX(0.980);">Cur b: 1.57 V</span>
</body></html>
